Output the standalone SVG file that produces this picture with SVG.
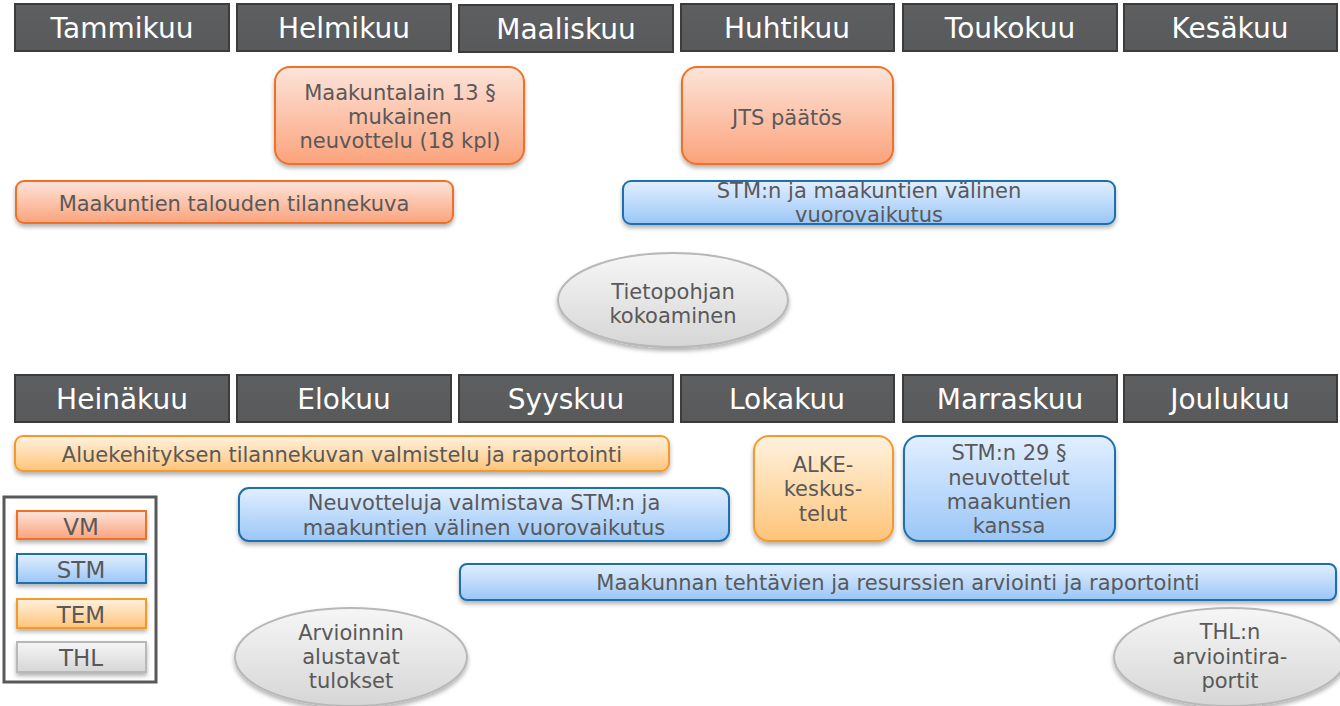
<svg xmlns="http://www.w3.org/2000/svg" width="1340" height="706" viewBox="0 0 1340 706">
<defs>
<linearGradient id="gVM" x1="0" y1="0" x2="0" y2="1"><stop offset="0" stop-color="#fde4da"/><stop offset="1" stop-color="#fba37c"/></linearGradient>
<linearGradient id="gSTM" x1="0" y1="0" x2="0" y2="1"><stop offset="0" stop-color="#e2efff"/><stop offset="1" stop-color="#9ac6f7"/></linearGradient>
<linearGradient id="gTEM" x1="0" y1="0" x2="0" y2="1"><stop offset="0" stop-color="#fff2df"/><stop offset="1" stop-color="#ffc479"/></linearGradient>
<linearGradient id="gTHL" x1="0" y1="0" x2="0" y2="1"><stop offset="0" stop-color="#f6f6f6"/><stop offset="1" stop-color="#d6d6d6"/></linearGradient>
<linearGradient id="gHdr" x1="0" y1="0" x2="0" y2="1"><stop offset="0" stop-color="#5e5f61"/><stop offset="1" stop-color="#58595b"/></linearGradient>
<filter id="sh" x="-10%" y="-20%" width="120%" height="150%"><feDropShadow dx="0" dy="3" stdDeviation="2" flood-color="#000" flood-opacity="0.3"/></filter>
</defs>
<style>
text{font-family:"DejaVu Sans","Verdana",sans-serif;fill:#595959;font-size:21px;text-anchor:middle}
.hdr rect{fill:url(#gHdr);stroke:#3c3c3c;stroke-width:2}
.hdr text{fill:#ffffff;font-size:28px}
.vm{fill:url(#gVM);stroke:#ef7128;stroke-width:2;filter:url(#sh)}
.stm{fill:url(#gSTM);stroke:#1d6fae;stroke-width:2;filter:url(#sh)}
.tem{fill:url(#gTEM);stroke:#f7992c;stroke-width:2;filter:url(#sh)}
.thl{fill:url(#gTHL);stroke:#b8b8b8;stroke-width:2;filter:url(#sh)}
.leg text{font-size:23px}
</style>
<rect width="1340" height="706" fill="#ffffff"/>
<g id="months-top" class="hdr">
<g id="m1"><rect x="15" y="4" width="214" height="47"/><text x="122" y="38">Tammikuu</text></g>
<g id="m2"><rect x="237" y="4" width="214" height="47"/><text x="344" y="38">Helmikuu</text></g>
<g id="m3"><rect x="459" y="5" width="214" height="47"/><text x="566" y="39">Maaliskuu</text></g>
<g id="m4"><rect x="681" y="4" width="213" height="47"/><text x="787" y="38">Huhtikuu</text></g>
<g id="m5"><rect x="903" y="4" width="214" height="47"/><text x="1010" y="38">Toukokuu</text></g>
<g id="m6"><rect x="1124" y="4" width="213" height="47"/><text x="1230" y="38">Kesäkuu</text></g>
</g>
<g id="months-bottom" class="hdr">
<g id="m7"><rect x="15" y="375" width="214" height="47"/><text x="122" y="409">Heinäkuu</text></g>
<g id="m8"><rect x="237" y="375" width="214" height="47"/><text x="344" y="409">Elokuu</text></g>
<g id="m9"><rect x="459" y="375" width="214" height="47"/><text x="566" y="409">Syyskuu</text></g>
<g id="m10"><rect x="681" y="375" width="213" height="47"/><text x="787" y="409">Lokakuu</text></g>
<g id="m11"><rect x="903" y="375" width="214" height="47"/><text x="1010" y="409">Marraskuu</text></g>
<g id="m12"><rect x="1124" y="375" width="213" height="47"/><text x="1230" y="409">Joulukuu</text></g>
</g>
<g id="n-maakuntalain"><rect class="vm" x="275" y="67" width="249" height="97" rx="15"/><text x="400" y="100">Maakuntalain 13 §</text><text x="400" y="124">mukainen</text><text x="400" y="148">neuvottelu (18 kpl)</text></g>
<g id="n-jts"><rect class="vm" x="682" y="67" width="211" height="97" rx="15"/><text x="787" y="125">JTS päätös</text></g>
<g id="n-talous"><rect class="vm" x="16" y="181" width="437" height="42" rx="8"/><text x="234" y="211">Maakuntien talouden tilannekuva</text></g>
<g id="n-stm-vuoro"><rect class="stm" x="623" y="181" width="492" height="43" rx="8"/><text x="869" y="198">STM:n ja maakuntien välinen</text><text x="869" y="222">vuorovaikutus</text></g>
<g id="n-tietopohja"><ellipse class="thl" cx="673" cy="300" rx="115" ry="47"/><text x="673" y="299">Tietopohjan</text><text x="673" y="323">kokoaminen</text></g>
<g id="n-aluekehitys"><rect class="tem" x="15" y="436" width="654" height="35" rx="8"/><text x="342" y="462">Aluekehityksen tilannekuvan valmistelu ja raportointi</text></g>
<g id="n-neuvotteluja"><rect class="stm" x="239" y="488" width="490" height="53" rx="10"/><text x="484" y="510">Neuvotteluja valmistava STM:n ja</text><text x="484" y="535">maakuntien välinen vuorovaikutus</text></g>
<g id="n-alke"><rect class="tem" x="754" y="436" width="139" height="105" rx="15"/><text x="823" y="472">ALKE-</text><text x="823" y="496">keskus-</text><text x="823" y="521">telut</text></g>
<g id="n-stm29"><rect class="stm" x="904" y="436" width="211" height="105" rx="15"/><text x="1009" y="460">STM:n 29 §</text><text x="1009" y="485">neuvottelut</text><text x="1009" y="509">maakuntien</text><text x="1009" y="533">kanssa</text></g>
<g id="n-maakunnan"><rect class="stm" x="460" y="564" width="876" height="36" rx="7"/><text x="898" y="590">Maakunnan tehtävien ja resurssien arviointi ja raportointi</text></g>
<g id="n-arvioinnin"><ellipse class="thl" cx="351" cy="657" rx="116" ry="49"/><text x="351" y="640">Arvioinnin</text><text x="351" y="664">alustavat</text><text x="351" y="688">tulokset</text></g>
<g id="n-thl"><ellipse class="thl" cx="1230" cy="657" rx="116" ry="49"/><text x="1230" y="639">THL:n</text><text x="1230" y="664">arviointira-</text><text x="1230" y="688">portit</text></g>
<g id="legend" class="leg">
<rect x="4" y="497" width="152" height="185" fill="#ffffff" stroke="#595959" stroke-width="3"/>
<g id="leg-vm"><rect class="vm" x="17" y="511" width="129" height="28"/><text x="81" y="535">VM</text></g>
<g id="leg-stm"><rect class="stm" x="17" y="554" width="129" height="29"/><text x="81" y="578">STM</text></g>
<g id="leg-tem"><rect class="tem" x="17" y="599" width="129" height="29"/><text x="81" y="623">TEM</text></g>
<g id="leg-thl"><rect class="thl" x="17" y="642" width="129" height="30"/><text x="81" y="666">THL</text></g>
</g>
<g id="connectors"/>
</svg>
